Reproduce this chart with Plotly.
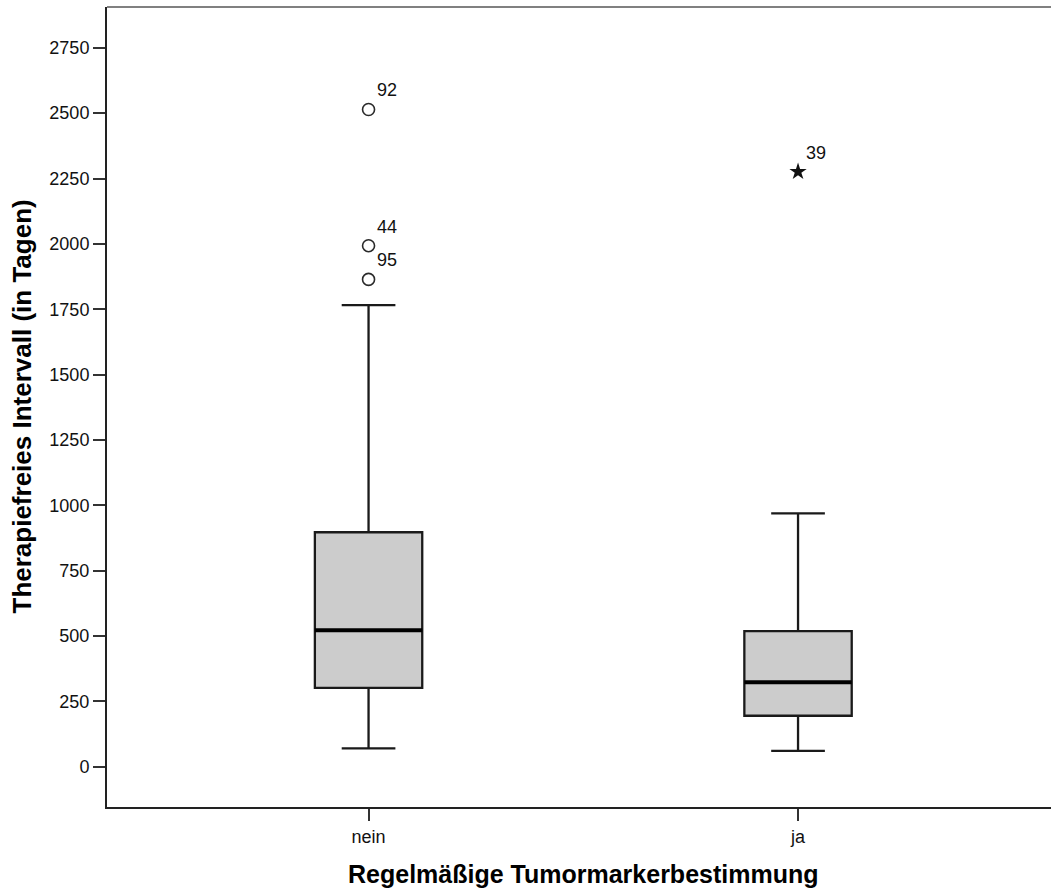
import plotly.graph_objects as go

# Therapy-free interval by regular tumour marker testing (SPSS-style boxplot)
categories = ["nein", "ja"]
q1 = [302, 195]
median = [522, 323]
q3 = [897, 519]
lower_whisker = [70, 61]
upper_whisker = [1766, 969]

# mild outliers (circles) and extreme values (stars) with case numbers
outlier_group = [0, 0, 0]
outlier_values = [2514, 1993, 1864]
outlier_ids = ["92", "44", "95"]

extreme_group = [1]
extreme_values = [2276]
extreme_ids = ["39"]

y_ticks = [0, 250, 500, 750, 1000, 1250, 1500, 1750, 2000, 2250, 2500, 2750]

FONT = "Liberation Sans, Arial, sans-serif"
BOX_WIDTH = 0.25

fig = go.Figure()

for i, cat in enumerate(categories):
    fig.add_trace(go.Box(
        x=[i], q1=[q1[i]], median=[median[i]], q3=[q3[i]],
        lowerfence=[lower_whisker[i]], upperfence=[upper_whisker[i]],
        width=BOX_WIDTH, whiskerwidth=0.5,
        fillcolor="#cccccc",
        line=dict(color="#1a1a1a", width=2.3),
        boxpoints=False, hoverinfo="skip", showlegend=False, name=cat,
    ))

# heavier median bars drawn over the boxes
for i in range(len(categories)):
    fig.add_trace(go.Scatter(
        x=[i - BOX_WIDTH / 2, i + BOX_WIDTH / 2], y=[median[i], median[i]],
        mode="lines", line=dict(color="#000000", width=4),
        hoverinfo="skip", showlegend=False,
    ))

fig.add_trace(go.Scatter(
    x=outlier_group, y=outlier_values, mode="markers",
    marker=dict(symbol="circle-open", size=12, color="#2a2a2a",
                line=dict(width=1.6, color="#2a2a2a")),
    hoverinfo="skip", showlegend=False,
))
fig.add_trace(go.Scatter(
    x=extreme_group, y=extreme_values, mode="markers",
    marker=dict(symbol="star", size=13, color="#111111",
                line=dict(width=0)),
    hoverinfo="skip", showlegend=False,
))

annotations = []
for gx, v, lab in list(zip(outlier_group, outlier_values, outlier_ids)) + \
        list(zip(extreme_group, extreme_values, extreme_ids)):
    annotations.append(dict(
        x=gx, y=v, xref="x", yref="y", text=lab, showarrow=False,
        xanchor="left", yanchor="bottom", xshift=6, yshift=7,
        font=dict(family=FONT, size=18, color="#111111"),
    ))

# axis titles
annotations.append(dict(
    x=0.5, xref="x", y=0, yref="paper", yshift=-67,
    text="Regelmäßige Tumormarkerbestimmung", showarrow=False,
    xanchor="center", yanchor="middle",
    font=dict(family=FONT, size=25, color="#000000", weight="bold"),
))
annotations.append(dict(
    x=0, xref="paper", xshift=-85.5, y=0.5, yref="paper",
    text="Therapiefreies Intervall (in Tagen)", showarrow=False,
    textangle=-90, xanchor="center", yanchor="middle",
    font=dict(family=FONT, size=26, color="#000000", weight="bold"),
))

fig.update_layout(
    width=1051, height=890,
    margin=dict(l=107, r=0, t=7, b=83, pad=0),
    paper_bgcolor="white", plot_bgcolor="white",
    font=dict(family=FONT, size=18, color="#111111"),
    annotations=annotations,
    shapes=[dict(type="line", xref="paper", yref="paper",
                 x0=0, x1=1, y0=1, y1=1,
                 line=dict(color="#808080", width=2))],
)
fig.update_xaxes(
    range=[-0.609, 1.589], tickmode="array", tickvals=[0, 1],
    ticktext=categories, showgrid=False, zeroline=False,
    showline=True, linecolor="#222222", linewidth=2,
    ticks="outside", ticklen=12, tickwidth=2, tickcolor="#333333",
    tickfont=dict(family=FONT, size=18, color="#111111"),
)
fig.update_yaxes(
    range=[-154, 2906], tickmode="array", tickvals=y_ticks,
    showgrid=False, zeroline=False,
    showline=True, linecolor="#222222", linewidth=2,
    ticks="outside", ticklen=12, tickwidth=2, tickcolor="#333333",
    tickfont=dict(family=FONT, size=18, color="#111111"),
)

fig.write_html("out.html")
